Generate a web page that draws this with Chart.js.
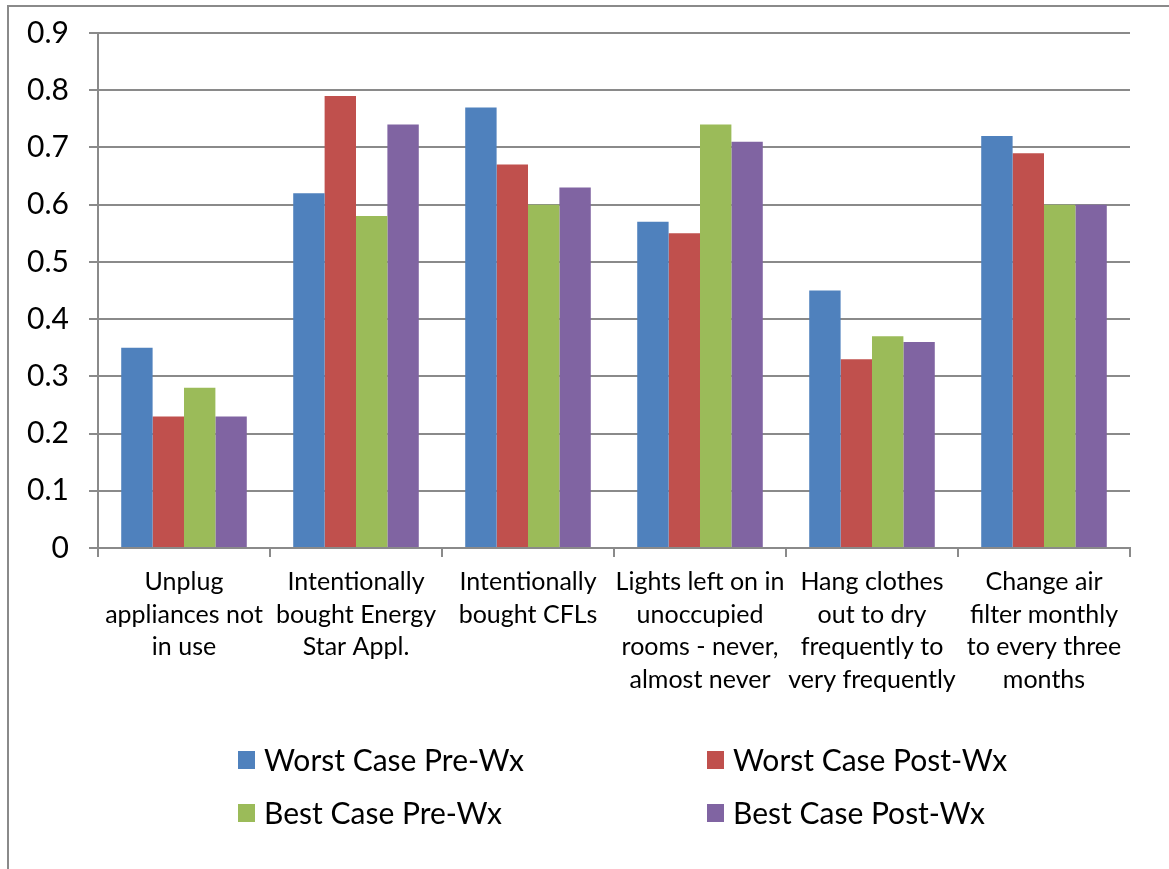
<!DOCTYPE html>
<html>
<head>
<meta charset="utf-8">
<script src="https://cdn.jsdelivr.net/npm/chart.js@4.4.1/dist/chart.umd.min.js"></script>
<style>
  html, body { margin: 0; padding: 0; background: #fff; }
  #wrap { width: 1169px; height: 869px; position: relative; }
</style>
</head>
<body>
<div id="wrap"><canvas id="chart"></canvas></div>
<script>
var categories = [
    ["Unplug", "appliances not", "in use"],
    ["Intentionally", "bought Energy", "Star Appl."],
    ["Intentionally", "bought CFLs"],
    ["Lights left on in", "unoccupied", "rooms - never,", "almost never"],
    ["Hang clothes", "out to dry", "frequently to", "very frequently"],
    ["Change air", "filter monthly", "to every three", "months"]
];
var seriesNames = ["Worst Case Pre-Wx", "Worst Case Post-Wx", "Best Case Pre-Wx", "Best Case Post-Wx"];
var worstPre  = [0.35, 0.62, 0.77, 0.57, 0.45, 0.72];
var worstPost = [0.23, 0.79, 0.67, 0.55, 0.33, 0.69];
var bestPre   = [0.28, 0.58, 0.60, 0.74, 0.37, 0.60];
var bestPost  = [0.23, 0.74, 0.63, 0.71, 0.36, 0.60];
var yTicks = [0, 0.1, 0.2, 0.3, 0.4, 0.5, 0.6, 0.7, 0.8, 0.9];

var colors = ['#4F81BD', '#C0504D', '#9BBB59', '#8064A2'];
var fontName = 'Lato, Carlito, Calibri, sans-serif';

// frame lines (left + top) like the original picture
var framePlugin = {
    id: 'frame',
    beforeDraw: function(chart) {
        var c = chart.ctx;
        c.save();
        c.strokeStyle = '#8a8a8a';
        c.lineWidth = 2;
        c.beginPath();
        c.moveTo(8, 869);
        c.lineTo(8, 6);
        c.lineTo(1169, 6);
        c.stroke();
        c.restore();
    }
};

// legend in a 2 x 2 grid
var gridLegend = {
    id: 'gridLegend',
    afterDraw: function(chart) {
        var c = chart.ctx;
        var cols = [238, 707];
        var rows = [760, 813];
        c.save();
        c.font = '30px ' + fontName;
        c.textBaseline = 'middle';
        chart.data.datasets.forEach(function(ds, i) {
            var x = cols[i % 2], y = rows[Math.floor(i / 2)];
            c.fillStyle = ds.backgroundColor;
            c.fillRect(x, y - 9, 17, 18);
            c.fillStyle = '#000';
            c.fillText(ds.label, x + 26, y + 1);
        });
        c.restore();
    }
};

var allSeries = [worstPre, worstPost, bestPre, bestPost];

var ctx = document.getElementById('chart').getContext('2d');
var chart = new Chart(ctx, {
    type: 'bar',
    data: {
        labels: categories,
        datasets: allSeries.map(function(vals, i) {
            return {
                label: seriesNames[i],
                data: vals,
                backgroundColor: colors[i],
                borderWidth: 0,
                barPercentage: 1.0,
                categoryPercentage: 0.73
            };
        })
    },
    options: {
        responsive: true,
        maintainAspectRatio: false,
        animation: false,
        layout: { padding: { top: 33, right: 39, left: 0, bottom: 0 } },
        plugins: {
            legend: { display: false },
            tooltip: { enabled: false }
        },
        scales: {
            x: {
                grid: {
                    offset: true,
                    drawOnChartArea: false,
                    color: '#8a8a8a',
                    lineWidth: 2,
                    tickLength: 9
                },
                border: { color: '#8a8a8a', width: 2 },
                ticks: {
                    color: '#000',
                    font: { family: fontName, size: 25, lineHeight: 1.3 },
                    padding: 9,
                    maxRotation: 0,
                    autoSkip: false
                },
                afterFit: function(scale) {
                    scale.height = 869 - 548;
                    scale.paddingLeft = 0;
                    scale.paddingRight = 0;
                }
            },
            y: {
                min: 0,
                max: 0.9,
                afterBuildTicks: function(scale) {
                    scale.ticks = yTicks.map(function(v) { return { value: v }; });
                },
                grid: {
                    color: '#8a8a8a',
                    lineWidth: 2,
                    tickLength: 9
                },
                border: { color: '#8a8a8a', width: 2 },
                ticks: {
                    color: '#000',
                    font: { family: fontName, size: 30 },
                    padding: 20,
                    callback: function(v) { return String(Math.round(v * 10) / 10); }
                },
                afterFit: function(scale) {
                    scale.width = 98;
                    scale.paddingTop = 0;
                    scale.paddingBottom = 0;
                }
            }
        }
    },
    plugins: [framePlugin, gridLegend]
});
</script>
</body>
</html>
